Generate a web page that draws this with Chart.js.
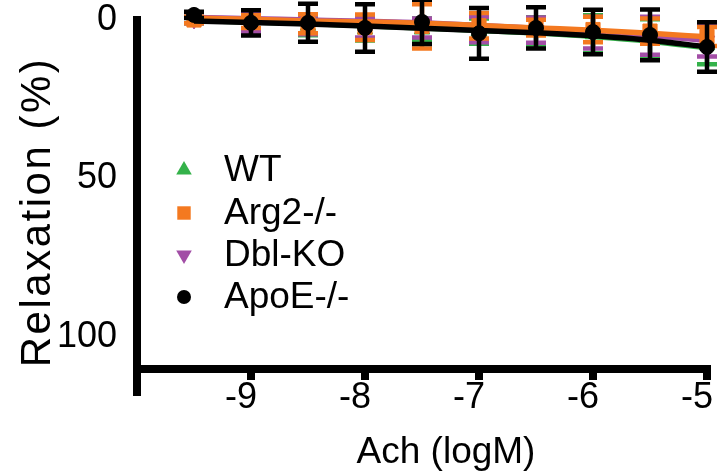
<!DOCTYPE html>
<html><head><meta charset="utf-8">
<script src="https://cdn.jsdelivr.net/npm/chart.js@4"></script>
<style>html,body{margin:0;padding:0;background:#fff}#wrap{width:718px;height:476px;position:relative}</style>
</head><body><div id="wrap"><canvas id="c" width="718" height="476"></canvas></div>
<script>
// ---- data ----
const xValues   = [-9.5, -9, -8.5, -8, -7.5, -7, -6.5, -6, -5.5, -5];
const seriesNames = ['WT', 'Arg2-/-', 'Dbl-KO', 'ApoE-/-'];
const wtMean   = [0.0, 1.0, 1.8, 3.0, 3.0, 3.5, 3.6, 4.5, 5.8, 8.0];
const wtSem    = [1.0, 2.5, 3.0, 3.5, 3.5, 4.0, 4.5, 6.0, 6.0, 6.0];
const wtFit    = [0.2, 0.6, 1.1, 1.8, 2.5, 3.3, 4.1, 5.2, 6.7, 8.8];
const arg2Mean = [0.0, 0.5, 1.2, 2.3, 2.0, 1.8, 2.4, 3.0, 3.5, 5.2];
const arg2Sem  = [1.0, 2.0, 3.0, 4.0, 7.0, 4.0, 2.5, 4.0, 4.0, 3.0];
const arg2Fit  = [-0.6, -0.2, 0.3, 0.6, 1.0, 1.7, 2.5, 3.2, 4.2, 5.3];
const dblMean  = [0.0, 0.8, 1.5, 2.5, 2.5, 3.0, 3.2, 4.0, 5.0, 6.5];
const dblSem   = [1.0, 3.0, 3.0, 3.0, 3.0, 4.0, 4.0, 5.0, 6.0, 5.0];
const dblFit   = [-0.8, -0.4, 0.0, 0.4, 0.9, 1.7, 2.6, 3.6, 4.9, 6.5];
const apoeMean = [-1.6, 0.9, 0.9, 2.5, 0.6, 4.2, 2.5, 3.8, 4.7, 8.5];
const apoeSem  = [1.0, 4.0, 6.0, 7.5, 7.0, 8.0, 6.5, 7.0, 8.0, 7.8];
const apoeFit  = [0.3, 0.8, 1.3, 1.9, 2.6, 3.3, 4.0, 5.0, 6.4, 8.5];
const xTicks = [-9, -8, -7, -6, -5];
const yTicks = [0, 50, 100];
const xTitle = 'Ach (logM)';
const yTitle = 'Relaxation (%)';

// ---- styles ----
const colors = ['#34b24a', '#f47920', '#a24ea6', '#000000'];
const styles = [
  {pointStyle: 'triangle', rotation: 0, radius: 9},
  {pointStyle: 'rect', rotation: 0, radius: 10},
  {pointStyle: 'triangle', rotation: 180, radius: 9},
  {pointStyle: 'circle', rotation: 0, radius: 7.5}
];
const layerRank = [0, 2, 1, 3]; // WT bottom, Dbl, Arg2, ApoE on top
const means = [wtMean, arg2Mean, dblMean, apoeMean];
const sems = [wtSem, arg2Sem, dblSem, apoeSem];
const fits = [wtFit, arg2Fit, dblFit, apoeFit];
const FONT = '"Liberation Sans", Arial, sans-serif';

const toXY = arr => arr.map((v, i) => ({x: xValues[i], y: v}));

const datasets = [];
seriesNames.forEach((name, s) => {
  const r = layerRank[s];
  datasets.push({
    label: name + ' fit', isFit: true,
    data: toXY(fits[s]), showLine: true, borderColor: colors[s], borderWidth: 5.5,
    pointRadius: 0, cubicInterpolationMode: 'monotone', clip: false, order: 8 - 2 * r
  });
  datasets.push({
    label: name, series: s, errors: sems[s],
    data: toXY(means[s]), showLine: false,
    pointStyle: styles[s].pointStyle, rotation: styles[s].rotation, pointRadius: styles[s].radius,
    pointBackgroundColor: colors[s], pointBorderColor: colors[s], pointBorderWidth: 1,
    clip: false, order: 7 - 2 * r
  });
});

const errorBars = {
  id: 'errorBars',
  beforeDatasetDraw(chart, args) {
    const ds = chart.data.datasets[args.index];
    if (!ds.errors) return;
    const ctx = chart.ctx, ys = chart.scales.y;
    ctx.save();
    ctx.strokeStyle = colors[ds.series];
    ctx.lineWidth = 4.5;
    args.meta.data.forEach((pt, i) => {
      const v = ds.data[i].y, e = ds.errors[i];
      const x = pt.x;
      const y1 = ys.getPixelForValue(v - e), y2 = ys.getPixelForValue(v + e);
      ctx.beginPath();
      ctx.moveTo(x, y1); ctx.lineTo(x, y2);
      ctx.moveTo(x - 10, y1); ctx.lineTo(x + 10, y1);
      ctx.moveTo(x - 10, y2); ctx.lineTo(x + 10, y2);
      ctx.stroke();
    });
    ctx.restore();
  }
};

function marker(ctx, st, x, y, r) {
  ctx.beginPath();
  if (st.pointStyle === 'circle') {
    ctx.arc(x, y, r, 0, Math.PI * 2);
  } else if (st.pointStyle === 'rect') {
    const h = r * Math.SQRT1_2;
    ctx.rect(x - h, y - h, 2 * h, 2 * h);
  } else {
    let rad = st.rotation * Math.PI / 180;
    for (let k = 0; k < 3; k++) {
      const px = x + Math.sin(rad) * r, py = y - Math.cos(rad) * r;
      if (k === 0) ctx.moveTo(px, py); else ctx.lineTo(px, py);
      rad += Math.PI * 2 / 3;
    }
    ctx.closePath();
  }
  ctx.fill();
}

const legendAndTitles = {
  id: 'legendAndTitles',
  afterDraw(chart) {
    const ctx = chart.ctx;
    ctx.save();
    const rows = [170, 213, 255, 297];
    const lr = [9, 9.5, 9, 7];
    seriesNames.forEach((name, s) => {
      ctx.fillStyle = colors[s];
      marker(ctx, styles[s], 184, rows[s], lr[s]);
      ctx.fillStyle = '#000';
      ctx.font = '37px ' + FONT;
      ctx.textAlign = 'left';
      ctx.textBaseline = 'middle';
      ctx.fillText(name, 224, rows[s] + 1);
    });
    // x title
    ctx.font = '37px ' + FONT;
    ctx.textAlign = 'center';
    ctx.textBaseline = 'alphabetic';
    ctx.fillText(xTitle, 446, 463);
    // y title
    ctx.translate(50, 212);
    ctx.rotate(-Math.PI / 2);
    ctx.font = '42px ' + FONT;
    try { ctx.letterSpacing = '2.5px'; } catch (e) {}
    ctx.fillText(yTitle, 0, 0);
    ctx.restore();
  }
};

new Chart(document.getElementById('c'), {
  type: 'scatter',
  data: {datasets},
  plugins: [errorBars, legendAndTitles],
  options: {
    responsive: false, animation: false, devicePixelRatio: 1,
    layout: {padding: {left: 0, right: 9, top: 20, bottom: 82}},
    plugins: {legend: {display: false}, tooltip: {enabled: false}},
    scales: {
      x: {
        type: 'linear', min: -10, max: -5, position: {y: 110},
        afterBuildTicks: s => { s.ticks = xTicks.map(v => ({value: v})); },
        afterFit: s => { s.paddingLeft = 0; s.paddingRight = 0; s.paddingTop = 0; s.paddingBottom = 0; },
        border: {display: true, color: '#000', width: 8},
        grid: {display: true, drawOnChartArea: false, drawTicks: true, tickLength: 7, tickWidth: 8, tickColor: '#000', color: '#000', lineWidth: 8},
        ticks: {color: '#000', font: {family: FONT, size: 36}, padding: 1, labelOffset: -10, maxRotation: 0, autoSkip: false}
      },
      y: {
        type: 'linear', reverse: true, min: 0, max: 118,
        afterBuildTicks: s => { s.ticks = yTicks.map(v => ({value: v})); },
        afterFit: s => { s.width = 137; s.paddingTop = 0; s.paddingBottom = 0; s.paddingLeft = 0; s.paddingRight = 0; },
        border: {display: true, color: '#000', width: 8},
        grid: {display: true, drawOnChartArea: false, drawTicks: true, tickLength: 3, tickWidth: 4, tickColor: '#000', color: '#000', lineWidth: 4},
        ticks: {color: '#000', font: {family: FONT, size: 36}, padding: 17}
      }
    }
  }
});
</script></body></html>
